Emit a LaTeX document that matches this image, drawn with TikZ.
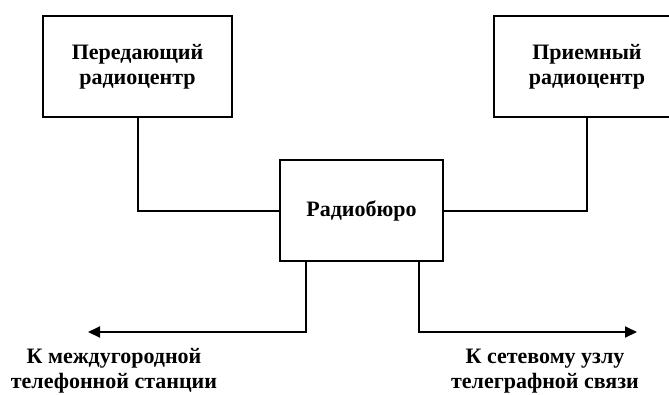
\documentclass[tikz,border=0pt]{standalone}
\usepackage{fontspec}
\setmainfont{Liberation Serif}
\usetikzlibrary{arrows.meta}
\begin{document}
\begin{tikzpicture}[x=1pt,y=-1pt,
  txt/.style={font=\bfseries\fontsize{22}{25}\selectfont, align=center, inner sep=0pt},
  box/.style={draw, line width=2.2pt, inner sep=0pt, txt},
  link/.style={draw, line width=2pt},
  arr/.style={link, -{Triangle[length=12pt,width=11pt]}}]
\clip (0,0) rectangle (669,394);
\node[box, minimum width=189pt, minimum height=101pt] (tx) at (137.5,66.5) {Передающий\\радиоцентр};
\node[box, minimum width=186pt, minimum height=101pt] (rx) at (587,66.5) {Приемный\\радиоцентр};
\node[box, minimum width=163pt, minimum height=101pt] (rb) at (361.5,210.5) {Радиобюро};
\coordinate (la) at (88,332);
\coordinate (ra) at (637,332);
\draw[link] (tx.south) |- (rb.west);
\draw[link] (rx.south) |- (rb.east);
\draw[arr] ([xshift=27pt]rb.south west) |- (la);
\draw[arr] ([xshift=-25pt]rb.south east) |- (ra);
\node[txt] (lt) at (114,371) {К междугородной\\телефонной станции};
\node[txt] (rt) at (545,371) {К сетевому узлу\\телеграфной связи};
\end{tikzpicture}
\end{document}
